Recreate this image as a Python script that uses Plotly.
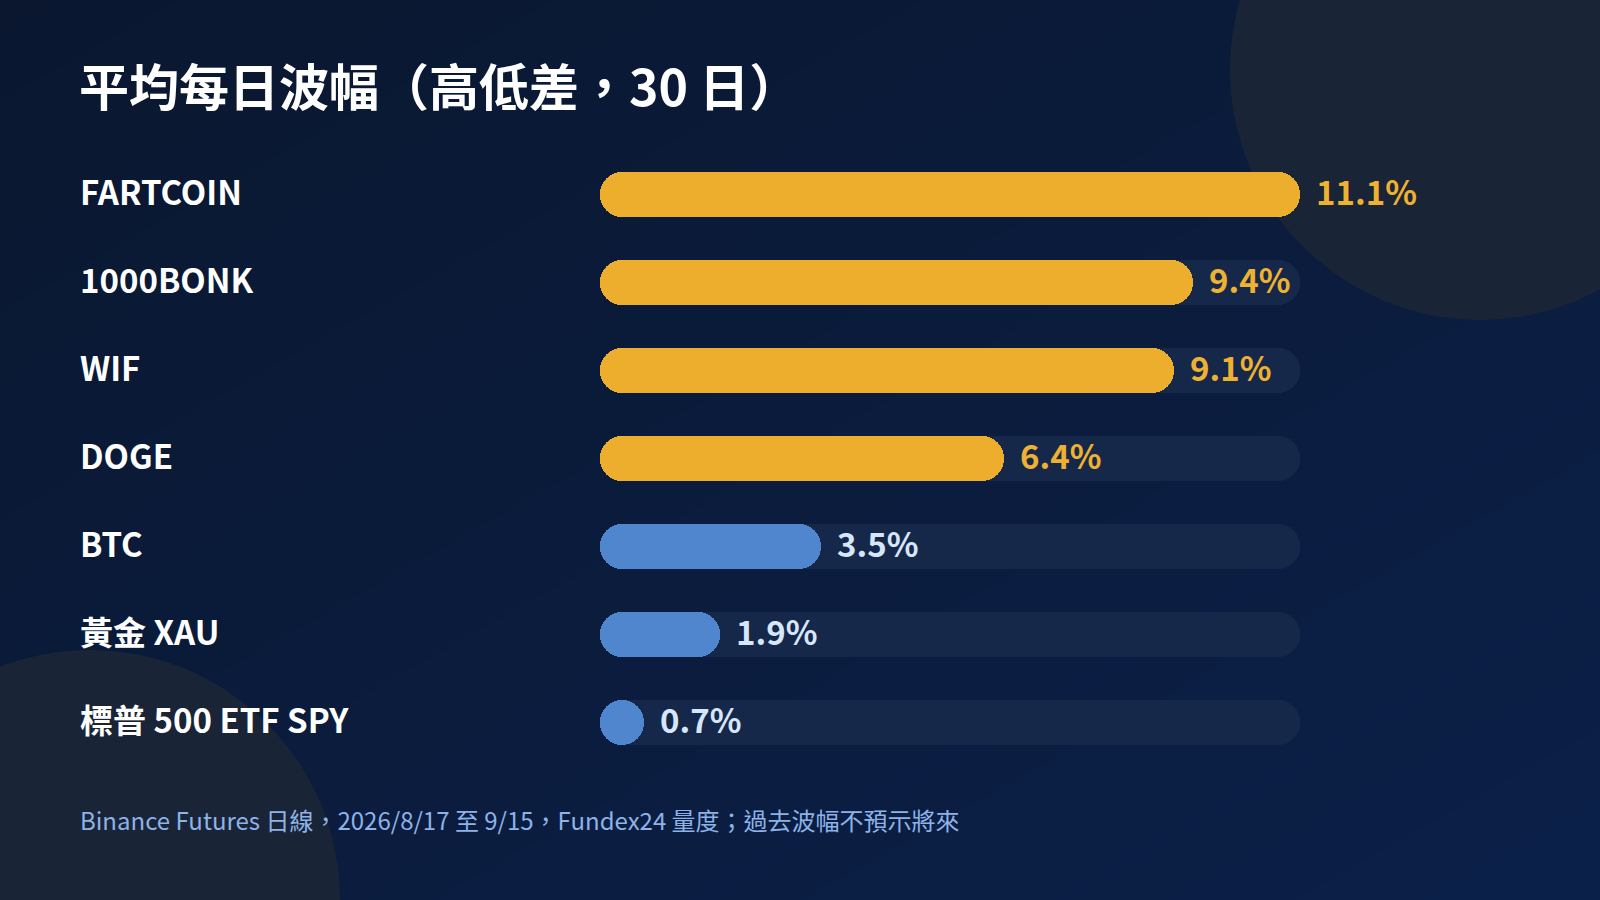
import plotly.graph_objects as go

# data
assets = ["FARTCOIN", "1000BONK", "WIF", "DOGE", "BTC", "黃金 XAU", "標普 500 ETF SPY"]
avg_range = [11.1, 9.4, 9.1, 6.4, 3.5, 1.9, 0.7]  # % average daily high-low range
groups = ["meme", "meme", "meme", "meme", "ref", "ref", "ref"]

title = "平均每日波幅（高低差，30 日）"
note = "Binance Futures 日線，2026/8/17 至 9/15，Fundex24 量度；過去波幅不預示將來"

# styles
W, H = 1600, 900
FONT = "Noto Sans CJK TC"
bar_col = {"meme": "#EDAE2D", "ref": "#4F86CE"}
val_col = {"meme": "#EFB131", "ref": "#D7E6FA"}
track_col = "#16284A"
blob_col = "#1A2437"

# pixel layout of the bar area
px_left, px_right = 600, 1300
row0, row_gap, bar_px = 194, 88, 45
track = max(avg_range)
u = track / (px_right - px_left)          # data units per pixel on x


def xd(px):
    return (px - px_left) * u


def yd(py):
    return (py - row0) / row_gap


fig = go.Figure()

# background gradient on its own full-page axes
fig.add_trace(go.Heatmap(
    z=[[1, 2], [0, 1]], x=[0, 1], y=[0, 1], zsmooth="best",
    colorscale=[[0, "#0A172F"], [1, "#0B2049"]], showscale=False,
    hoverinfo="skip", xaxis="x", yaxis="y"))

# grey tracks, then the values; an explicit base makes plotly round both ends
fig.add_trace(go.Bar(
    y=assets, x=[track] * len(assets), base=[0] * len(assets), orientation="h",
    width=bar_px / row_gap, marker=dict(color=track_col, cornerradius="50%", line_width=0),
    hoverinfo="skip", xaxis="x2", yaxis="y2"))
fig.add_trace(go.Bar(
    y=assets, x=avg_range, base=[0] * len(assets), orientation="h",
    width=bar_px / row_gap,
    marker=dict(color=[bar_col[g] for g in groups], cornerradius="50%", line_width=0),
    hoverinfo="skip", xaxis="x2", yaxis="y2"))

# decorative circles
fig.add_shape(type="circle", xref="x2", yref="y2", layer="below",
              x0=xd(1480 - 250), x1=xd(1480 + 250), y0=yd(70 - 250), y1=yd(70 + 250),
              fillcolor=blob_col, line_width=0)
fig.add_shape(type="circle", xref="x2", yref="y2", layer="below",
              x0=xd(90 - 250), x1=xd(90 + 250), y0=yd(900 - 250), y1=yd(900 + 250),
              fillcolor=blob_col, line_width=0)

# asset names and value labels
for name, v, g in zip(assets, avg_range, groups):
    fig.add_annotation(xref="paper", yref="y2", x=78 / W, y=name, text=name, yshift=3,
                       showarrow=False, xanchor="left", yanchor="middle",
                       font=dict(family=FONT, size=33, color="#FFFFFF", weight=700))
    fig.add_annotation(xref="x2", yref="y2", x=v, y=name, text=f"{v}%", xshift=14, yshift=3,
                       showarrow=False, xanchor="left", yanchor="middle",
                       font=dict(family=FONT, size=33, color=val_col[g], weight=700))

fig.add_annotation(xref="paper", yref="paper", x=77 / W, y=1 - 84 / H, text=title,
                   showarrow=False, xanchor="left", yanchor="middle",
                   font=dict(family=FONT, size=50, color="#FFFFFF", weight=700))
fig.add_annotation(xref="paper", yref="paper", x=78 / W, y=1 - 819 / H, text=note,
                   showarrow=False, xanchor="left", yanchor="middle",
                   font=dict(family=FONT, size=24, color="#8DB3E8", weight=400))

fig.update_layout(
    width=W, height=H, margin=dict(l=0, r=0, t=0, b=0),
    paper_bgcolor="#0A1A38", plot_bgcolor="rgba(0,0,0,0)",
    showlegend=False, barmode="overlay", bargap=0,
    xaxis=dict(domain=[0, 1], range=[0, 1], visible=False, fixedrange=True),
    yaxis=dict(domain=[0, 1], range=[0, 1], visible=False, fixedrange=True, anchor="x"),
    xaxis2=dict(domain=[0, 1], range=[xd(0), xd(W)], visible=False, fixedrange=True, anchor="y2"),
    yaxis2=dict(domain=[0, 1], range=[yd(H), yd(0)], visible=False, fixedrange=True, anchor="x2",
                type="category", categoryorder="array", categoryarray=assets),
)

fig.write_html("out.html", config={"displayModeBar": False},
               post_script="document.body.style.margin='0';")
